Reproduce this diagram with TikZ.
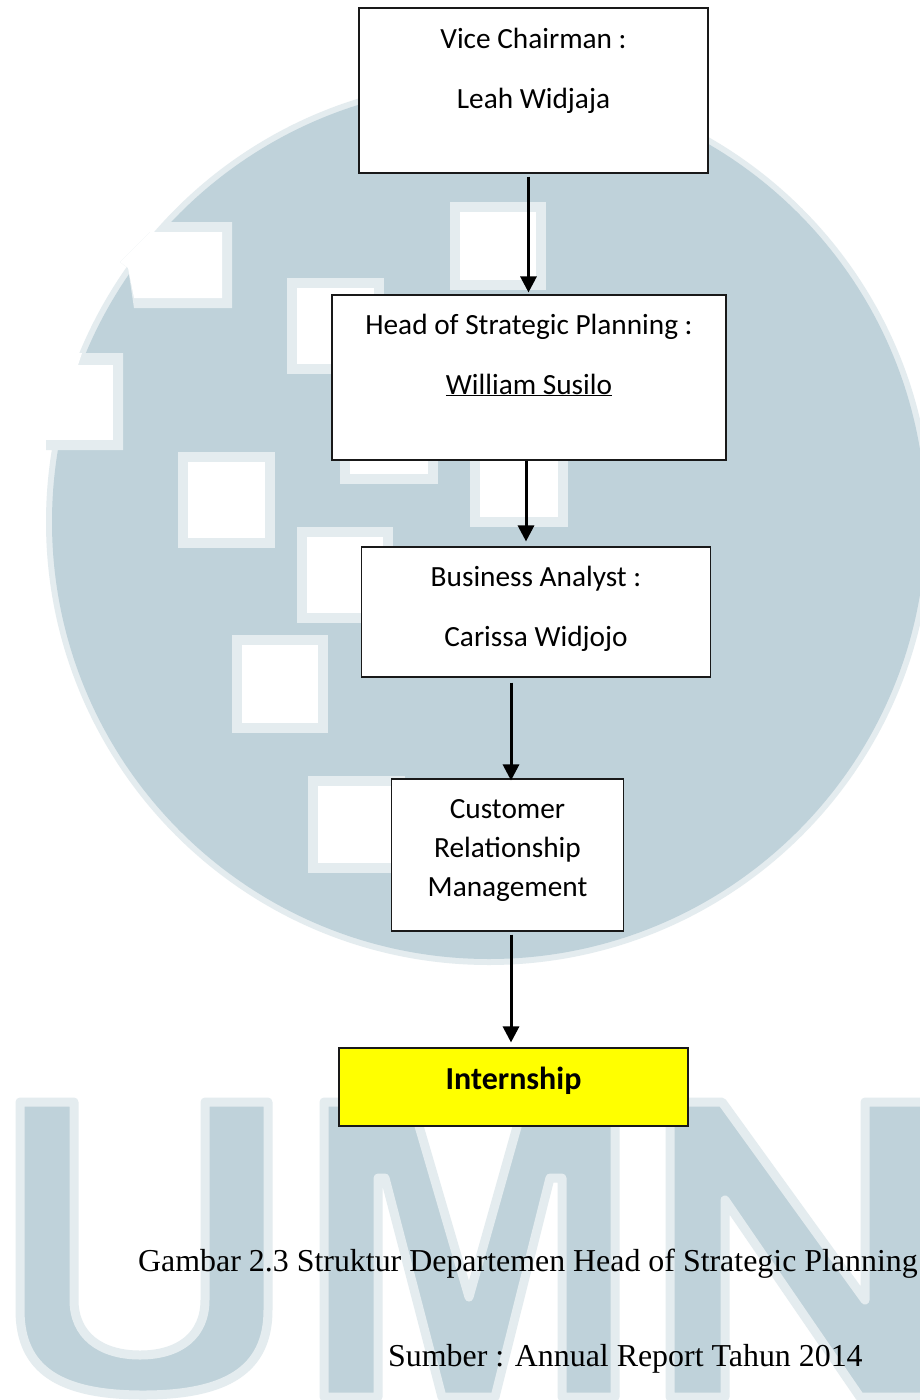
\documentclass[tikz,border=0pt]{standalone}
\usepackage{fontspec}
\setmainfont{Carlito}
\newfontfamily\capfont{Liberation Serif}
\usetikzlibrary{arrows.meta}
\definecolor{wmblue}{HTML}{BFD2DA}
\definecolor{wmpale}{HTML}{E4ECEF}
\definecolor{purey}{RGB}{255,255,0}
\newcommand{\boxtxt}[5]{\begin{minipage}[c][#2pt][t]{#1pt}\centering\fontsize{29.3}{#4pt}\selectfont\rule{0pt}{#3pt}#5\end{minipage}}
\newcommand{\wsq}[4]{\fill[wmpale] (#1,#2) rectangle (#3,#4);
  \fill[white] ({#1+10},{#2+10}) rectangle ({#3-10},{#4-10});}
\tikzset{
  orgbox/.style={draw=black!90, line width=1.1pt, fill=white, inner sep=0pt, anchor=center},
  internbox/.style={orgbox, fill=purey},
  flow/.style={draw=black, line width=3pt, -{Triangle[length=16pt,width=16pt]}},
  captext/.style={inner sep=0pt, anchor=base west, font=\capfont\fontsize{31.9}{34}\selectfont},
  wmletter/.style={fill=wmblue, draw=wmpale, line width=9pt, line join=round},
}
\begin{document}
\begin{tikzpicture}[x=1pt,y=-1pt]
\useasboundingbox (0,0) rectangle (920,1400);
\begin{scope}
\clip (0,0) rectangle (920,1400);
\fill[white] (0,0) rectangle (920,1400);
% watermark disc
\fill[wmpale] (489,522) circle (443);
\fill[wmblue] (489,522) circle (437);
% notches
\fill[wmpale] (134,308) -- (232,308) -- (232,222) -- (167,222) -- (161,232) -- (150,232) -- (120,262) -- (128,268) -- cycle;
\fill[white] (134,298) -- (222,298) -- (222,232) -- (150,232) -- (120,262) -- (128,268) -- cycle;
\fill[wmpale] (85,353) -- (123,353) -- (123,450) -- (46,450) -- (46,440) -- (70,353) -- cycle;
\fill[white] (30,365) -- (113,365) -- (113,440) -- (30,440) -- cycle;
\fill[white] (30,353) -- (82,353) -- (78,365) -- (30,365) -- cycle;
% squares
\wsq{287}{278}{384}{374}
\wsq{450}{202}{546}{290}
\wsq{178}{452}{275}{548}
\wsq{340}{388}{438}{484}
\wsq{470}{430}{568}{527}
\wsq{297}{527}{393}{623}
\wsq{232}{635}{328}{733}
\wsq{308}{776}{405}{873}
% U
\path[wmletter] (20,1102) -- (20,1310)
  .. controls (20,1370) and (60,1395) .. (143,1395)
  .. controls (226,1395) and (268,1370) .. (268,1310)
  -- (268,1102) -- (205,1102) -- (205,1300)
  .. controls (205,1335) and (180,1355) .. (140,1355)
  .. controls (100,1355) and (74,1335) .. (74,1300)
  -- (74,1102) -- cycle;
% M
\path[wmletter] (324,1397) -- (324,1102) -- (412,1102) -- (469,1297) -- (524,1102)
  -- (615,1102) -- (615,1397) -- (562,1397) -- (562,1178) -- (550,1178) -- (495,1397)
  -- (442,1397) -- (385,1178) -- (378,1178) -- (378,1397) -- cycle;
% N
\path[wmletter] (670,1397) -- (670,1102) -- (722,1102) -- (865,1300) -- (865,1102)
  -- (935,1102) -- (935,1397) -- (860,1397) -- (725,1200) -- (725,1397) -- cycle;
\end{scope}
% boxes
\node[orgbox] (vice) at (533.5,90.5) {\boxtxt{349}{165}{40}{60}{Vice Chairman :\\Leah Widjaja}};
\node[orgbox] (head) at (529,377.5) {\boxtxt{394}{165}{39}{60}{Head of Strategic Planning :\\\underline{William Susilo}}};
\node[orgbox] (analyst) at (536,612) {\boxtxt{349.5}{130}{39}{60}{Business Analyst :\\Carissa Widjojo}};
\node[orgbox] (crm) at (507.5,855) {\boxtxt{232}{152}{39}{39}{Customer\\Relationship\\Management}};
\node[internbox] (intern) at (513.5,1087) {\boxtxt{349}{78}{41}{39}{\fontsize{32}{39}\selectfont\bfseries Internship}};
% connectors
\draw[flow] ([xshift=-5pt,yshift=-3pt]vice.south) -- ([xshift=-0.5pt,yshift=2pt]head.north);
\draw[flow] ([xshift=-3pt]head.south) -- ([xshift=-10pt,yshift=5pt]analyst.north);
\draw[flow] ([xshift=-25pt,yshift=-5pt]analyst.south) -- ([xshift=3.5pt,yshift=-2pt]crm.north);
\draw[flow] ([xshift=3.5pt,yshift=-3pt]crm.south) -- ([xshift=-2.5pt,yshift=5pt]intern.north);
% captions
\node[captext] (cap) at (138,1271.5) {Gambar 2.3 Struktur Departemen Head of Strategic Planning};
\node[captext] (src) at (388,1366) {Sumber : Annual Report Tahun 2014};
\end{tikzpicture}
\end{document}
